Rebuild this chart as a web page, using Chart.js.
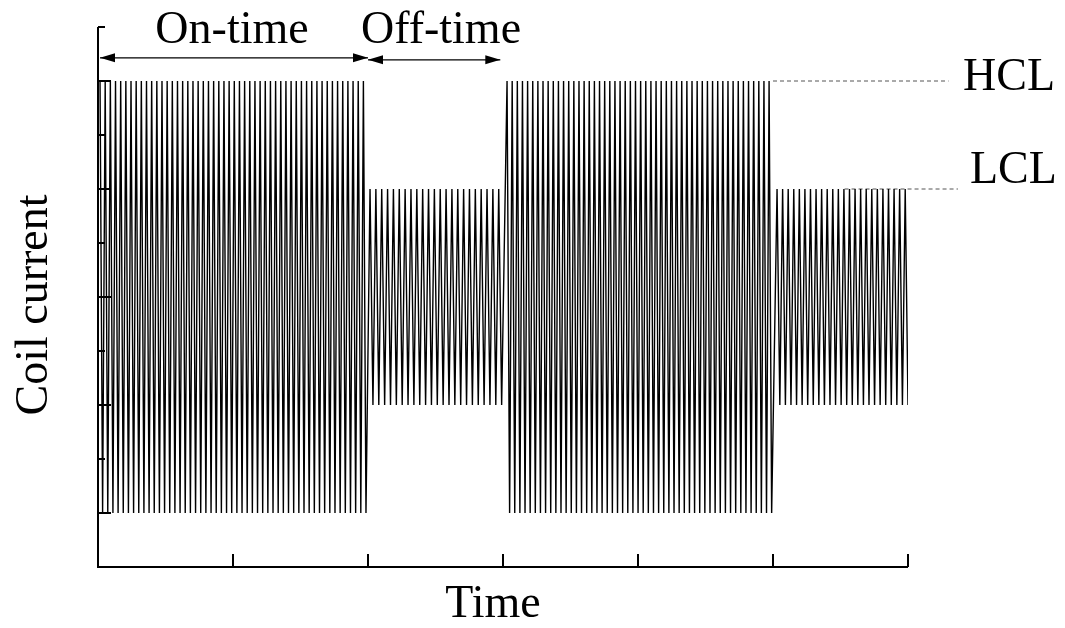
<!DOCTYPE html>
<html>
<head>
<meta charset="utf-8">
<script src="https://cdn.jsdelivr.net/npm/chart.js@4"></script>
<style>html,body{margin:0;background:#fff}</style>
</head>
<body>
<canvas id="c" width="1065" height="628"></canvas>
<script>
/* ===== data ===== */
const xTicks=[1,2,3,4,5,6];
const yTicks=[1,2,3,4,5,6,7,8,9,10];
const yMajor=[1,3,5,7,9];
// coil current waveform: one entry per segment
const segStart=[0.015,2.015,3.03,5.03];
const segEnd=[1.985,2.99,4.99,6.0];
const segHigh=[9,7,9,7];
const segLow=[1,3,1,3];
const segHalfCycles=[103,45,103,47];
// limit lines
const hclX=[5,6.3], hclY=[9,9];
const lclX=[5.53,6.37], lclY=[7,7];
// spans marked by the arrows
const onSpan=[0,2], offSpan=[2,2.98], arrowY=9.43;

/* ===== build waveform vertices ===== */
const wave=[];
segStart.forEach((s,i)=>{
    const n=segHalfCycles[i], step=(segEnd[i]-s)/n;
    for(let k=0;k<=n;k++) wave.push({x:s+k*step,y:k%2?segLow[i]:segHigh[i]});
});
const pts=(xs,ys)=>xs.map((v,i)=>({x:v,y:ys[i]}));

const FONT='46px "Liberation Serif", "Times New Roman", serif';

function arrow(c,x1,x2,py){
    c.beginPath();c.moveTo(x1,py);c.lineTo(x2,py);c.lineWidth=1.3;c.stroke();
    [[x1,1],[x2,-1]].forEach(([px,d])=>{
        c.beginPath();c.moveTo(px,py);c.lineTo(px+d*15,py-4.5);c.lineTo(px+d*15,py+4.5);c.closePath();c.fill();
    });
}

/* ===== axes, ticks, labels ===== */
const decor={id:"decor",afterDraw(ch){
    const c=ch.ctx,X=ch.scales.x,Y=ch.scales.y;
    const x0=X.getPixelForValue(0),y0=Y.getPixelForValue(0);
    c.save();
    c.strokeStyle="#000";c.fillStyle="#000";c.lineWidth=2;
    c.beginPath();
    c.moveTo(x0,Y.getPixelForValue(10));c.lineTo(x0,y0);c.lineTo(X.getPixelForValue(6),y0);
    c.stroke();
    c.beginPath();
    yTicks.forEach(v=>{const py=Y.getPixelForValue(v);c.moveTo(x0,py);c.lineTo(x0+(yMajor.includes(v)?13:7),py);});
    xTicks.forEach(v=>{const px=X.getPixelForValue(v);c.moveTo(px,y0);c.lineTo(px,y0-13);});
    c.stroke();

    const ay=Y.getPixelForValue(arrowY);
    arrow(c,X.getPixelForValue(onSpan[0])+2,X.getPixelForValue(onSpan[1]),ay);
    arrow(c,X.getPixelForValue(offSpan[0]),X.getPixelForValue(offSpan[1]),ay+2);

    c.font=FONT;c.textAlign="center";c.textBaseline="alphabetic";
    c.fillText("On-time",232,43);
    c.fillText("Off-time",441,43);
    c.fillText("Time",493,617);
    c.textAlign="left";
    c.fillText("HCL",963,90);
    c.fillText("LCL",970,183);
    c.translate(47,305);c.rotate(-Math.PI/2);c.textAlign="center";
    c.fillText("Coil current",0,0);
    c.restore();
}};

new Chart(document.getElementById("c"),{
    type:"line",
    data:{datasets:[
        {data:wave,borderColor:"#000",borderWidth:1.4,pointRadius:0,tension:0},
        {data:pts(hclX,hclY),borderColor:"#555",borderWidth:1,borderDash:[4,3],pointRadius:0,clip:false},
        {data:pts(lclX,lclY),borderColor:"#555",borderWidth:1,borderDash:[4,3],pointRadius:0,clip:false}
    ]},
    options:{
        responsive:false,animation:false,devicePixelRatio:1,
        layout:{padding:{left:98,right:157,top:27,bottom:61}},
        plugins:{legend:{display:false},tooltip:{enabled:false}},
        scales:{
            x:{type:"linear",min:0,max:6,display:false},
            y:{type:"linear",min:0,max:10,display:false}
        }
    },
    plugins:[decor]
});
</script>
</body>
</html>
